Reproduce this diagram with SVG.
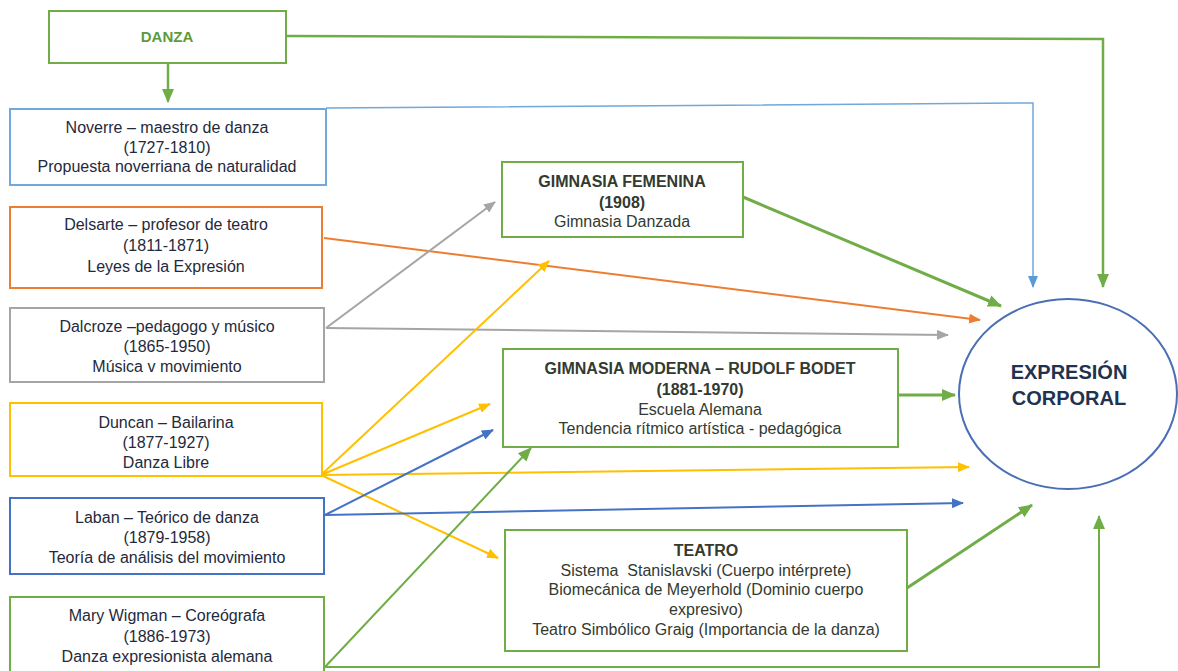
<svg xmlns="http://www.w3.org/2000/svg" width="1178" height="671" viewBox="0 0 1178 671">
  <style>
    .bg { fill: #ffffff; }
    .box { fill: #ffffff; stroke-width: 2; }
    .t { font-family: "Liberation Sans", Arial, sans-serif; font-size: 16px; fill: #1f2a3c; text-anchor: middle; white-space: pre; }
    .tm { font-family: "Liberation Sans", Arial, sans-serif; font-size: 16px; fill: #333a30; text-anchor: middle; white-space: pre; }
    .b { font-weight: bold; }
    .ln { fill: none; stroke-width: 2; }
    .thick { stroke-width: 3; }
    .mid { stroke-width: 2.5; }
    .thin { stroke-width: 1.5; }
    .green { stroke: #70ad47; }
    .lblue { stroke: #6fa8dc; }
    .orange { stroke: #ed7d31; }
    .grey { stroke: #a5a5a5; }
    .yellow { stroke: #ffc000; }
    .blue { stroke: #4472c4; }
  </style>
  <defs>
    <marker id="ah-green" markerUnits="userSpaceOnUse" markerWidth="14" markerHeight="12" refX="13" refY="6" orient="auto"><path d="M0,0 L14,6 L0,12 z" fill="#70ad47"/></marker>
    <marker id="ah-lblue" markerUnits="userSpaceOnUse" markerWidth="12" markerHeight="10" refX="11" refY="5" orient="auto"><path d="M0,0 L12,5 L0,10 z" fill="#5b9bd5"/></marker>
    <marker id="ah-orange" markerUnits="userSpaceOnUse" markerWidth="12" markerHeight="10" refX="11" refY="5" orient="auto"><path d="M0,0 L12,5 L0,10 z" fill="#ed7d31"/></marker>
    <marker id="ah-grey" markerUnits="userSpaceOnUse" markerWidth="12" markerHeight="10" refX="11" refY="5" orient="auto"><path d="M0,0 L12,5 L0,10 z" fill="#a5a5a5"/></marker>
    <marker id="ah-yellow" markerUnits="userSpaceOnUse" markerWidth="12" markerHeight="10" refX="11" refY="5" orient="auto"><path d="M0,0 L12,5 L0,10 z" fill="#ffc000"/></marker>
    <marker id="ah-blue" markerUnits="userSpaceOnUse" markerWidth="12" markerHeight="10" refX="11" refY="5" orient="auto"><path d="M0,0 L12,5 L0,10 z" fill="#4472c4"/></marker>
  </defs>

  <rect class="bg" x="0" y="0" width="1178" height="671"/>

  <!-- connectors -->
  <g id="connectors">
    <!-- Danza -->
    <path class="ln mid green" d="M286,36 L1103,39 L1103,287" marker-end="url(#ah-green)"/>
    <path class="ln mid green" d="M168,63 L168,102" marker-end="url(#ah-green)"/>
    <!-- Noverre -->
    <path class="ln thin lblue" d="M326,108 L1033,103 L1033,287" marker-end="url(#ah-lblue)"/>
    <!-- Delsarte -->
    <path class="ln orange" d="M324,238 L980,320" marker-end="url(#ah-orange)"/>
    <!-- Dalcroze -->
    <path class="ln grey" d="M326,328 L495,202" marker-end="url(#ah-grey)"/>
    <path class="ln grey" d="M326,328 L948,335" marker-end="url(#ah-grey)"/>
    <!-- Duncan -->
    <path class="ln yellow" d="M321,475 L549,261" marker-end="url(#ah-yellow)"/>
    <path class="ln yellow" d="M321,475 L490,404" marker-end="url(#ah-yellow)"/>
    <path class="ln yellow" d="M321,475 L969,467" marker-end="url(#ah-yellow)"/>
    <path class="ln yellow" d="M321,475 L498,558" marker-end="url(#ah-yellow)"/>
    <!-- Laban -->
    <path class="ln blue" d="M325,515 L493,430" marker-end="url(#ah-blue)"/>
    <path class="ln blue" d="M325,515 L963,503" marker-end="url(#ah-blue)"/>
    <!-- Mary Wigman -->
    <path class="ln green" d="M324,668 L531,448" marker-end="url(#ah-green)"/>
    <path class="ln green" d="M326,667 L1099,667 L1099,516" marker-end="url(#ah-green)"/>
    <!-- middle boxes to Expresión Corporal -->
    <path class="ln thick green" d="M743,197 L1001,306" marker-end="url(#ah-green)"/>
    <path class="ln thick green" d="M898,395 L955,395" marker-end="url(#ah-green)"/>
    <path class="ln thick green" d="M907,588 L1032,505" marker-end="url(#ah-green)"/>
  </g>

  <g id="danza">
    <rect class="box green" x="49" y="11" width="237" height="52"/>
    <text class="t b" x="167" y="42" style="fill:#5e9a3c;font-size:15px">DANZA</text>
  </g>

  <g id="noverre">
    <rect class="box lblue" x="10" y="109" width="316" height="76"/>
    <text class="t" x="167" y="133">Noverre – maestro de danza</text>
    <text class="t" x="167" y="153">(1727-1810)</text>
    <text class="t" x="167" y="172">Propuesta noverriana de naturalidad</text>
  </g>

  <g id="delsarte">
    <rect class="box orange" x="10" y="207" width="312" height="81"/>
    <text class="t" x="166" y="230">Delsarte – profesor de teatro</text>
    <text class="t" x="166" y="251">(1811-1871)</text>
    <text class="t" x="166" y="272">Leyes de la Expresión</text>
  </g>

  <g id="dalcroze">
    <rect class="box grey" x="10" y="308" width="314" height="74"/>
    <text class="t" x="167" y="332">Dalcroze –pedagogo y músico</text>
    <text class="t" x="167" y="352">(1865-1950)</text>
    <text class="t" x="167" y="372">Música v movimiento</text>
  </g>

  <g id="duncan">
    <rect class="box yellow" x="10" y="403" width="312" height="73"/>
    <text class="t" x="166" y="428">Duncan – Bailarina</text>
    <text class="t" x="166" y="448">(1877-1927)</text>
    <text class="t" x="166" y="468">Danza Libre</text>
  </g>

  <g id="laban">
    <rect class="box blue" x="10" y="498" width="314" height="76"/>
    <text class="t" x="167" y="523">Laban – Teórico de danza</text>
    <text class="t" x="167" y="543">(1879-1958)</text>
    <text class="t" x="167" y="563">Teoría de análisis del movimiento</text>
  </g>

  <g id="wigman">
    <rect class="box green" x="10" y="597" width="314" height="90"/>
    <text class="t" x="167" y="621">Mary Wigman – Coreógrafa</text>
    <text class="t" x="167" y="642">(1886-1973)</text>
    <text class="t" x="167" y="662">Danza expresionista alemana</text>
  </g>

  <g id="gimnasia-femenina">
    <rect class="box green" x="502" y="162" width="241" height="75"/>
    <text class="tm b" x="622" y="187">GIMNASIA FEMENINA</text>
    <text class="tm b" x="622" y="208">(1908)</text>
    <text class="tm" x="622" y="227">Gimnasia Danzada</text>
  </g>

  <g id="gimnasia-moderna">
    <rect class="box green" x="503" y="349" width="395" height="98"/>
    <text class="tm b" x="700" y="374">GIMNASIA MODERNA – RUDOLF BODET</text>
    <text class="tm b" x="700" y="395">(1881-1970)</text>
    <text class="tm" x="700" y="415">Escuela Alemana</text>
    <text class="tm" x="700" y="434">Tendencia rítmico artística - pedagógica</text>
  </g>

  <g id="teatro">
    <rect class="box green" x="505" y="530" width="402" height="121"/>
    <text class="tm b" x="706" y="556">TEATRO</text>
    <text class="tm" x="706" y="576">Sistema  Stanislavski (Cuerpo intérprete)</text>
    <text class="tm" x="706" y="595">Biomecánica de Meyerhold (Dominio cuerpo</text>
    <text class="tm" x="706" y="615">expresivo)</text>
    <text class="tm" x="706" y="635">Teatro Simbólico Graig (Importancia de la danza)</text>
  </g>

  <g id="expresion-corporal">
    <ellipse cx="1068" cy="394" rx="109" ry="95" fill="#ffffff" stroke="#4a6fb5" stroke-width="2"/>
    <text class="t b" x="1069" y="379" style="font-size:20px;fill:#1f3350">EXPRESIÓN</text>
    <text class="t b" x="1069" y="405" style="font-size:20px;fill:#1f3350">CORPORAL</text>
  </g>
</svg>
